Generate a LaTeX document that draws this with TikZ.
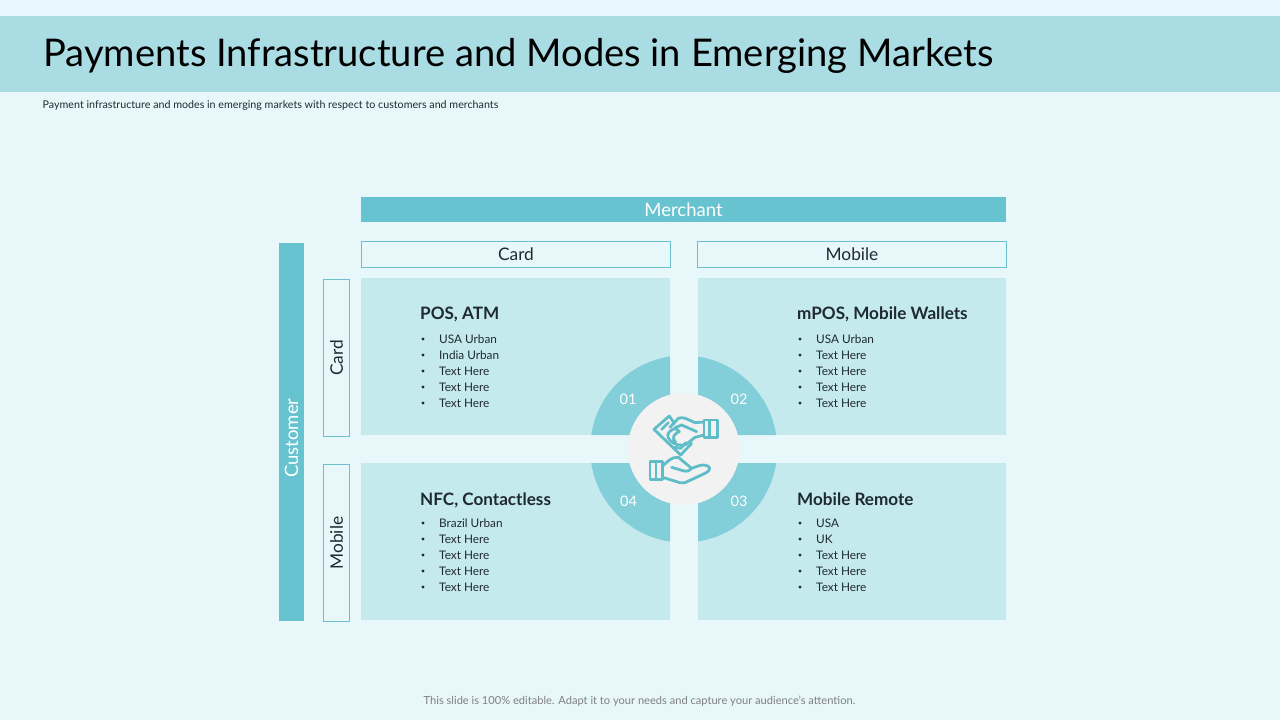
\documentclass[tikz,border=0pt]{standalone}
\usepackage{fontspec}
\setmainfont{Lato}
\usetikzlibrary{calc}
\definecolor{bgc}{HTML}{E8F7F9}
\definecolor{topc}{HTML}{E8F7FD}
\definecolor{band}{HTML}{AADDE3}
\definecolor{bar}{HTML}{67C3CF}
\definecolor{quad}{HTML}{C5EAEE}
\definecolor{ring}{HTML}{82CED9}
\definecolor{hub}{HTML}{F2F2F2}
\definecolor{edge}{HTML}{6FC0CE}
\definecolor{ink}{HTML}{1F2A30}
\definecolor{icon}{HTML}{5FBDCA}
\newcommand{\fs}[1]{\fontsize{#1}{#1}\selectfont}
\newcommand{\nudge}[2][2pt]{\raisebox{-#1}{#2}}
\tikzset{
  x=1pt,y=-1pt,
  barbox/.style={fill=bar,draw=none,inner sep=0,text=white,font=\fs{18.5}},
  hdrbox/.style={fill=bgc,draw=edge,line width=.8pt,inner sep=0,text=ink,font=\fs{17.3}},
  qhead/.style={anchor=base west,inner sep=0,text=ink,font=\fs{17.1}\bfseries},
  qitem/.style={anchor=west,inner sep=0,text=ink,font=\fs{11.8}},
  qdot/.style={circle,fill=ink,minimum size=3.4pt,inner sep=0},
  qnum/.style={text=white,font=\fs{14.5},inner sep=0},
  iconline/.style={draw=icon,line width=2.8pt,line join=round,line cap=round},
}
\newcommand{\qlist}[4]{% name, x, y, list
  \foreach \t [count=\i from 0] in {#4} {
    \node[qdot] (#1d\i) at (#2+3,#3+16*\i) {};
    \node[qitem] (#1t\i) at (#2+19,#3+16*\i) {\t};
  }}
\begin{document}
\begin{tikzpicture}
\useasboundingbox (0,0) rectangle (1280,720);
\fill[bgc] (0,0) rectangle (1280,720);
\fill[topc] (0,0) rectangle (1280,16);
\fill[band] (0,16) rectangle (1280,92);
\node[anchor=base west,inner sep=0,text=black,font=\fs{38.15}] (title) at (43,66) {Payments Infrastructure and Modes in Emerging Markets};
\node[anchor=base west,inner sep=0,text=ink,font=\fs{10.7}] (sub) at (42.5,108) {Payment infrastructure and modes in emerging markets with respect to customers and merchants};
% bars
\node[barbox,minimum width=645pt,minimum height=25pt] (merchant) at (683.5,209.5) {\nudge[3pt]{Merchant}};
\node[barbox,minimum width=378pt,minimum height=25pt,rotate=90] (customer) at (291.5,432) {\nudge[3pt]{Customer\hspace{12pt}}};
\node[hdrbox,minimum width=309.5pt,minimum height=26.5pt] (hcard) at (516,254.5) {\nudge{Card}};
\node[hdrbox,minimum width=309.5pt,minimum height=26.5pt] (hmobile) at (852,254.5) {\nudge{Mobile}};
\node[hdrbox,minimum width=157.5pt,minimum height=26.5pt,rotate=90] (scard) at (336.5,358) {\nudge{Card}};
\node[hdrbox,minimum width=157.5pt,minimum height=26.5pt,rotate=90] (smobile) at (336.5,543) {\nudge{Mobile}};
% quadrants
\fill[quad] (361,278) rectangle (670,435);
\fill[quad] (698,278) rectangle (1006,435);
\fill[quad] (361,463) rectangle (670,620);
\fill[quad] (698,463) rectangle (1006,620);
\begin{scope}
 \clip (361,278) rectangle (670,435) (698,278) rectangle (1006,435) (361,463) rectangle (670,620) (698,463) rectangle (1006,620);
 \fill[ring] (683.7,449) circle[radius=93.5];
\end{scope}
\node[circle,fill=hub,minimum size=112pt,inner sep=0] (hubc) at (683.7,449) {};
\node[qnum] (n1) at (628,399) {01};
\node[qnum] (n2) at (739,399) {02};
\node[qnum] (n3) at (739,501) {03};
\node[qnum] (n4) at (628.5,501) {04};
% text blocks
\node[qhead] (q1) at (420,319) {POS, ATM};
\qlist{a}{420}{339}{USA Urban,India Urban,Text Here,Text Here,Text Here}
\node[qhead] (q2) at (797,319) {mPOS, Mobile Wallets};
\qlist{b}{797}{339}{USA Urban,Text Here,Text Here,Text Here,Text Here}
\node[qhead] (q4) at (420,505) {NFC, Contactless};
\qlist{c}{420}{523}{Brazil Urban,Text Here,Text Here,Text Here,Text Here}
\node[qhead] (q3) at (797,505) {Mobile Remote};
\qlist{d}{797}{523}{USA,UK,Text Here,Text Here,Text Here}
% icon (coordinates in thirds of a pixel)
\begin{scope}[shift={(580,340)},x=.3333pt,y=-.3333pt]
 \draw[iconline] (372,240) rectangle (412,292);
 \draw[iconline] (388,242) -- (388,290);
 \draw[iconline] (283,250) -- (268,228) -- (222,268) -- (302,345) -- (335,310);
 \draw[iconline] (245,268) -- (265,248);
 \draw[iconline] (285,322) -- (302,325) -- (318,308);
 \draw[iconline] (372,246) -- (345,248) .. controls (325,240) and (310,228) .. (295,235) -- (270,262);
 \draw[iconline] (372,285) -- (345,292) -- (320,312) .. controls (305,320) and (285,315) .. (272,303) .. controls (258,290) and (262,278) .. (275,270) .. controls (285,262) and (295,268) .. (298,275) .. controls (285,280) and (272,292) .. (287,306);
 \draw[iconline] (285,263) -- (305,255) -- (350,275);
 \draw[iconline] (210,365) rectangle (248,418);
 \draw[iconline] (228,367) -- (228,416);
 \draw[iconline] (248,378) .. controls (262,365) and (275,350) .. (295,352) -- (335,385) .. controls (350,380) and (365,372) .. (378,376) .. controls (392,380) and (395,390) .. (375,400) -- (315,428) .. controls (305,430) and (295,428) .. (290,425) -- (248,412);
 \draw[iconline] (275,382) -- (312,393) .. controls (322,395) and (330,392) .. (335,385);
\end{scope}
\node[anchor=center,inner sep=0,text=black!50,font=\fs{11.1}] (foot) at (639.5,701.5) {This slide is 100\% editable. Adapt it to your needs and capture your audience's attention.};
\end{tikzpicture}
\end{document}
